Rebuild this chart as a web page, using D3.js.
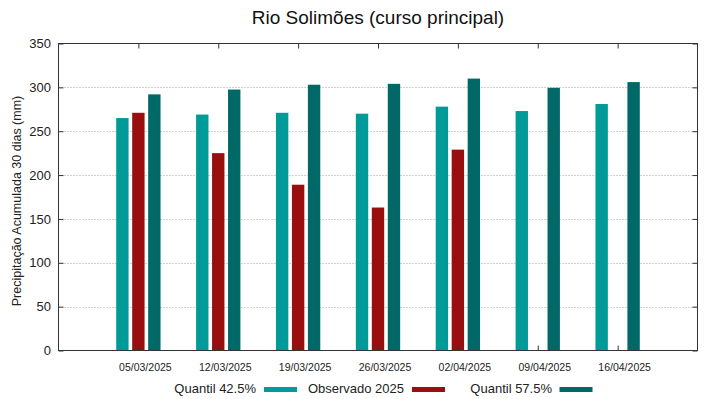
<!DOCTYPE html>
<html>
<head>
<meta charset="utf-8">
<script src="https://cdn.jsdelivr.net/npm/d3@7"></script>
<style>
html,body{margin:0;padding:0;background:#fff;}
svg{display:block;font-family:"Liberation Sans",Arial,sans-serif;}
</style>
</head>
<body>
<svg id="chart" width="719" height="399"></svg>
<script>
const title = "Rio Solimões (curso principal)";
const yLabel = "Precipitação Acumulada 30 dias (mm)";
const categories = ["05/03/2025","12/03/2025","19/03/2025","26/03/2025","02/04/2025","09/04/2025","16/04/2025"];
const seriesNames = ["Quantil 42.5%","Observado 2025","Quantil 57.5%"];
const q425 = [265, 269, 271, 270, 278, 273, 281];
const obs2025 = [271, 225, 189, 163, 229, null, null];
const q575 = [292, 297.5, 303, 304, 310, 299.5, 306];
const yTicks = [0, 50, 100, 150, 200, 250, 300, 350];
const colors = ["#009a98", "#990e0e", "#006867"];

const svg = d3.select("#chart");
const mLeft = 58.5, mRight = 697.5, mTop = 43.5, mBottom = 350.5;
const x = d3.scaleLinear().domain([-1, categories.length]).range([mLeft, mRight]);
const y = d3.scaleLinear().domain([0, 350]).range([mBottom, mTop]);

// grid
svg.append("g").selectAll("line").data(yTicks.filter(v => v > 0 && v < 350)).join("line")
  .attr("x1", mLeft).attr("x2", mRight)
  .attr("y1", d => Math.round(y(d)) + 0.5).attr("y2", d => Math.round(y(d)) + 0.5)
  .attr("stroke", "#a0a0a0").attr("stroke-width", 1).attr("stroke-dasharray", "1,2");

// bars
const series = [q425, obs2025, q575];
const offsets = [-0.2, 0, 0.2];
const bw = 0.155;
series.forEach((vals, si) => {
  svg.append("g").selectAll("rect")
    .data(vals.map((v, i) => ({v, i})).filter(d => d.v != null))
    .join("rect")
    .attr("x", d => x(d.i + offsets[si] - bw / 2))
    .attr("width", d => x(d.i + offsets[si] + bw / 2) - x(d.i + offsets[si] - bw / 2))
    .attr("y", d => y(d.v))
    .attr("height", d => y(0) - y(d.v))
    .attr("fill", colors[si]);
});

// frame
svg.append("rect").attr("x", mLeft).attr("y", mTop).attr("width", mRight - mLeft).attr("height", mBottom - mTop)
  .attr("fill", "none").attr("stroke", "#333").attr("stroke-width", 1);

// axes via d3
const yAxisL = d3.axisLeft(y).tickValues(yTicks).tickSize(-5).tickPadding(7.5);
const gy = svg.append("g").attr("transform", `translate(${mLeft},0)`).call(yAxisL);
gy.select(".domain").remove();
gy.selectAll("line").attr("stroke", "#333");
gy.selectAll("text").attr("font-size", 13).attr("fill", "#222").attr("font-family", "Liberation Sans, Arial, sans-serif");

const yAxisR = d3.axisRight(y).tickValues(yTicks).tickSize(-5).tickFormat("");
const gyr = svg.append("g").attr("transform", `translate(${mRight},0)`).call(yAxisR);
gyr.select(".domain").remove();
gyr.selectAll("line").attr("stroke", "#333");

const xIdx = categories.map((c, i) => i);
const xAxisB = d3.axisBottom(x).tickValues(xIdx).tickSize(-5).tickFormat("");
const gxb = svg.append("g").attr("transform", `translate(0,${mBottom})`).call(xAxisB);
gxb.select(".domain").remove();
gxb.selectAll("line").attr("stroke", "#333");

const xAxisT = d3.axisTop(x).tickValues(xIdx).tickSize(-5).tickFormat("");
const gxt = svg.append("g").attr("transform", `translate(0,${mTop})`).call(xAxisT);
gxt.select(".domain").remove();
gxt.selectAll("line").attr("stroke", "#333");

// x labels (offset to right like original)
svg.append("g").selectAll("text").data(categories).join("text")
  .attr("x", (d, i) => x(i) + 7).attr("y", 371)
  .attr("text-anchor", "middle").attr("font-size", 10.5).attr("fill", "#222")
  .text(d => d);

// title
svg.append("text").attr("x", 378).attr("y", 24).attr("text-anchor", "middle")
  .attr("font-size", 19).attr("fill", "#111").text(title);

// y label
svg.append("text").attr("transform", "translate(21,201) rotate(-90)")
  .attr("text-anchor", "middle").attr("font-size", 12.5).attr("fill", "#222").text(yLabel);

// legend
const legendTextEnd = [256, 404, 552];
const legendSwatch = [264, 412, 559.5];
const lg = svg.append("g");
seriesNames.forEach((n, i) => {
  lg.append("text").attr("x", legendTextEnd[i]).attr("y", 393).attr("text-anchor", "end")
    .attr("font-size", 13).attr("fill", "#222").text(n);
  lg.append("rect").attr("x", legendSwatch[i]).attr("y", 387).attr("width", 33).attr("height", 5)
    .attr("fill", colors[i]);
});
</script>
</body>
</html>
